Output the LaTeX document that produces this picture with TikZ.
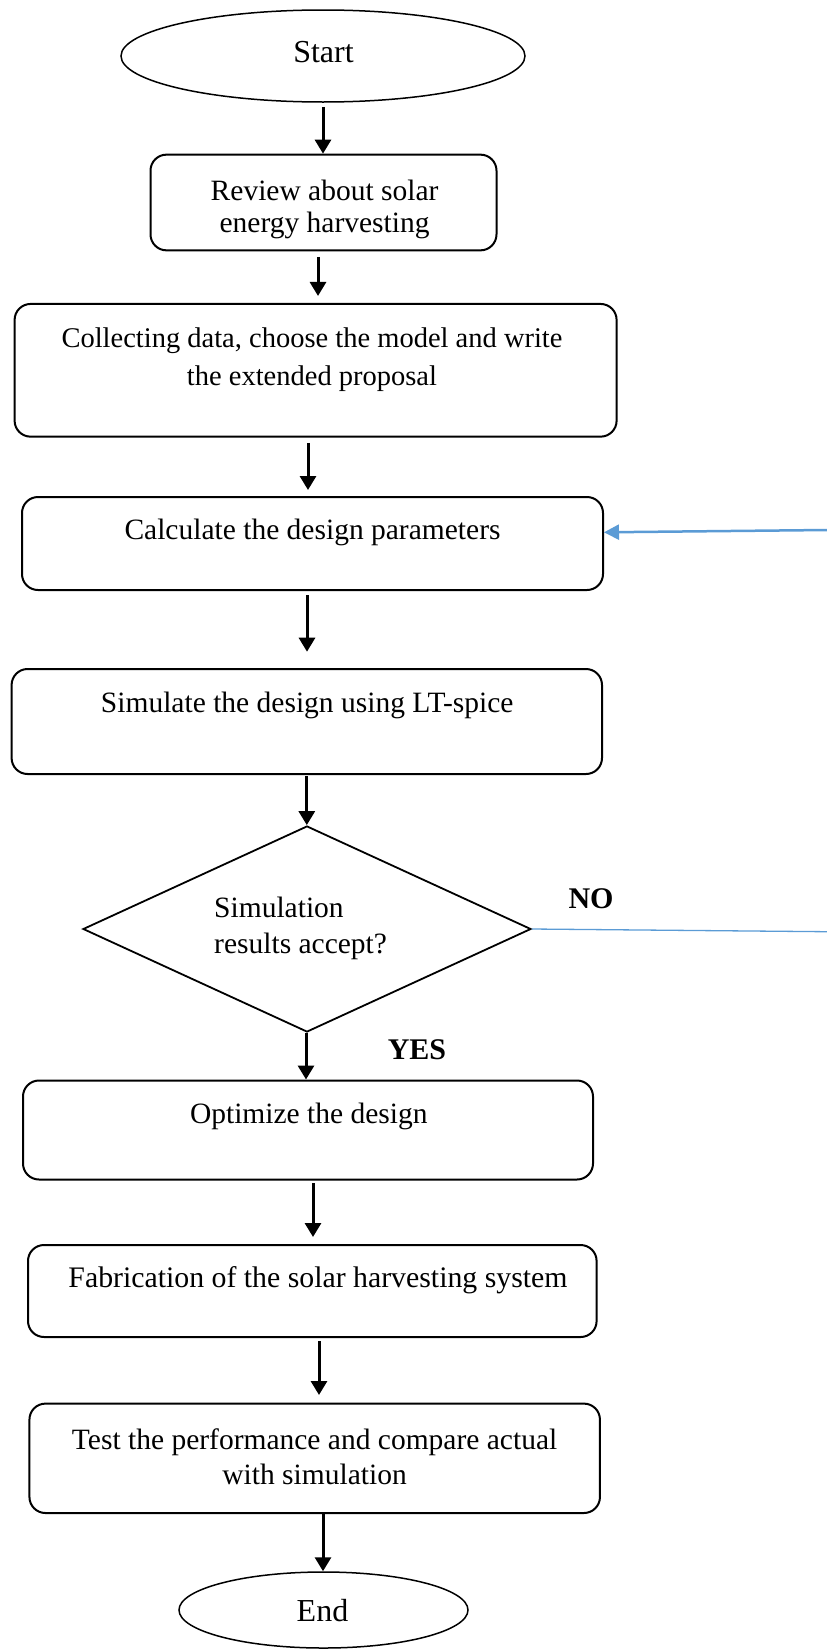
\documentclass[tikz,border=0pt]{standalone}
\usepackage{fontspec}
\setmainfont{Liberation Serif}
\usetikzlibrary{arrows.meta,shapes.geometric}
\definecolor{fbblue}{RGB}{91,155,213}
\begin{document}
\begin{tikzpicture}[x=1pt,y=-1pt,
  box/.style={draw, line width=2pt, rounded corners=16pt, inner sep=0pt},
  oval/.style={draw, ellipse, line width=1.5pt, inner sep=0pt},
  dia/.style={draw, diamond, line width=1.8pt, inner sep=0pt},
  txt/.style={inner sep=0pt, align=center, font=\fontsize{29.5}{35}\selectfont},
  lbl/.style={inner sep=0pt, font=\fontsize{30}{36}\selectfont\bfseries},
  arr/.style={line width=3pt, -{Triangle[length=14pt,width=16pt]}},
  fbarr/.style={line width=2.5pt, draw=fbblue, -{Triangle[length=15pt,width=15pt,fill=fbblue]}},
  fbline/.style={line width=1.3pt, draw=fbblue}]
\useasboundingbox (0,0) rectangle (827,1649);

% shapes
\node[oval, minimum width=404pt, minimum height=92pt] (start) at (323,56) {};
\node[box, minimum width=346pt, minimum height=95.7pt] (rev) at (323.5,202.5) {};
\node[box, minimum width=602pt, minimum height=132.7pt] (col) at (315.6,370.3) {};
\node[box, minimum width=581pt, minimum height=93pt] (calc) at (312.5,543.5) {};
\node[box, minimum width=590.4pt, minimum height=105pt] (sim) at (306.8,721.5) {};
\node[dia, minimum width=448pt, minimum height=206pt] (dec) at (307,929) {};
\node[box, minimum width=570pt, minimum height=99pt] (opt) at (308,1130) {};
\node[box, minimum width=568.6pt, minimum height=92pt] (fab) at (312.3,1291) {};
\node[box, minimum width=570.5pt, minimum height=109.4pt] (test) at (314.7,1458.3) {};
\node[oval, minimum width=289pt, minimum height=76pt] (end) at (323.5,1610) {};

% texts
\node[txt, anchor=base, font=\fontsize{32}{36}\selectfont] (tstart) at (323.5,62) {Start};
\begin{scope}
\clip (150,150) rectangle (497,241.5);
\node[txt, font=\fontsize{29.5}{32}\selectfont] (trev) at (324.6,209.5) {Review about solar\\energy harvesting};
\end{scope}
\node[txt, font=\fontsize{28.5}{38}\selectfont] (tcol) at (312,359.7) {Collecting data, choose the model and write\\the extended proposal};
\node[txt, anchor=base] (tcalc) at (312.5,539) {Calculate the design parameters};
\node[txt, anchor=base] (tsim) at (307.2,712.5) {Simulate the design using LT-spice};
\node[txt, align=left, anchor=west, font=\fontsize{29.5}{36}\selectfont] (tdec) at (214,928) {Simulation\\results accept?};
\node[txt, anchor=base] (topt) at (308.8,1123) {Optimize the design};
\node[txt, anchor=base, font=\fontsize{29.8}{36}\selectfont] (tfab) at (318,1287) {Fabrication of the solar harvesting system};
\node[txt, font=\fontsize{29.5}{34.6}\selectfont] (ttest) at (314.6,1457) {Test the performance and compare actual\\with simulation};
\node[txt, anchor=base, font=\fontsize{32}{36}\selectfont] (tend) at (322.5,1621) {End};
\node[lbl, anchor=base] (no) at (591,908) {NO};
\node[lbl, anchor=base] (yes) at (417,1059.5) {YES};

% connectors
\draw[arr, shorten <=4pt] (start.south) -- (start.south |- rev.north);
\draw[arr, shorten <=5.6pt, shorten >=7pt] ([xshift=-5.5pt]rev.south) -- ([xshift=-5.5pt]rev.south |- col.north);
\draw[arr, shorten <=5.3pt, shorten >=6pt] ([xshift=-7.6pt]col.south) -- ([xshift=-7.6pt]col.south |- calc.north);
\draw[arr, shorten <=4pt, shorten >=16.3pt] ([xshift=-5.5pt]calc.south) -- ([xshift=-5.5pt]calc.south |- sim.north);
\draw[arr, shorten <=1pt] (sim.south) -- (sim.south |- dec.north);
\draw[arr] ([xshift=-1pt]dec.south) -- ([xshift=-1pt]dec.south |- opt.north);
\draw[arr, shorten <=2.5pt, shorten >=7pt] ([xshift=5pt]opt.south) -- ([xshift=5pt]opt.south |- fab.north);
\draw[arr, shorten <=3pt, shorten >=7.6pt] ([xshift=6.7pt]fab.south) -- ([xshift=6.7pt]fab.south |- test.north);
\draw[arr] ([xshift=8.3pt]test.south) -- ([xshift=8.3pt]test.south |- end.north);

% feedback lines running off the right edge
\coordinate (fbR) at (827,530);
\coordinate (noR) at (827,931.7);
\draw[fbarr] (fbR) -- ([yshift=11.2pt]calc.east);
\draw[fbline] (dec.east) -- (noR);
\end{tikzpicture}
\end{document}
